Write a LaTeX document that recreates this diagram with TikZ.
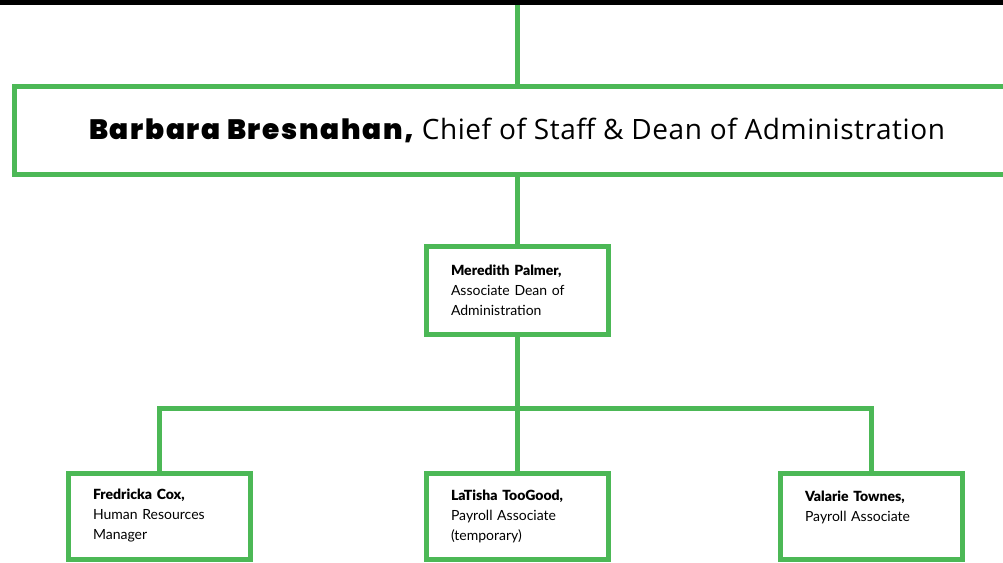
\documentclass[tikz,border=0pt]{standalone}
\usepackage{fontspec}
\setmainfont{Lato}[BoldFont={Lato Black}]
\newfontfamily\heavyfont{Poppins Black}[LetterSpace=6]
\newfontfamily\titlefont{Open Sans}[LetterSpace=2]
\definecolor{orggreen}{HTML}{4CB856}
\begin{document}
\begin{tikzpicture}
[x=1pt,y=-1pt,
  boxdecorate/.style={shape=rectangle,draw=orggreen,line width=5pt,inner sep=0pt},%
  staffbox/.style={boxdecorate,minimum width=182pt,minimum height=86pt,
    text width=132pt,align=left,font=\fontsize{14}{20}\selectfont},%
  linedecorate/.style={-,draw=orggreen,line width=5pt}]
\useasboundingbox (0,0) rectangle (1003,562);
\clip (0,0) rectangle (1003,562);
\fill[black] (0,0) rectangle (1003,5);
\coordinate (top) at (517,5);
%% nodes or boxes
\node (barbara) at (517,130) [boxdecorate,minimum width=1006pt,minimum height=88pt,
  font=\titlefont\fontsize{28}{32}\selectfont]
  {{\heavyfont Barbara Bresnahan,} Chief of Staff \& Dean of Administration};
\node (meredith) at (517,290) [staffbox,minimum height=88pt]
  {\textbf{Meredith Palmer,}\\Associate Dean of\\Administration};
\foreach \nodename/\x/\who/\role in {fredricka/159/{Fredricka Cox,}/{Human Resources\\Manager},
    latisha/517/{LaTisha TooGood,}/{Payroll Associate\\(temporary)},
    valarie/871/{Valarie Townes,}/{Payroll Associate\\\mbox{}}} {
  \node (\nodename) at (\x,516) [staffbox] {\textbf{\who}\\\role};
}
%% edges or lines
\draw[linedecorate] (top) -- (barbara.north);
\draw[linedecorate] (barbara.south) -- (meredith.north);
\foreach \nodename in {fredricka,latisha,valarie} {
  \draw[linedecorate] (meredith.south) -- ++(0,72) -| (\nodename.north);
}
\end{tikzpicture}
\end{document}
